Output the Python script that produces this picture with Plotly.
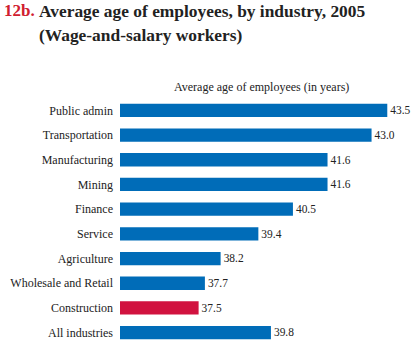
import plotly.graph_objects as go

industries = ["Public admin", "Transportation", "Manufacturing", "Mining", "Finance",
              "Service", "Agriculture", "Wholesale and Retail", "Construction", "All industries"]
avg_age = [43.5, 43.0, 41.6, 41.6, 40.5, 39.4, 38.2, 37.7, 37.5, 39.8]
value_labels = ["43.5", "43.0", "41.6", "41.6", "40.5", "39.4", "38.2", "37.7", "37.5", "39.8"]

BLUE = "#006cb8"
RED = "#d1123f"
colors = [RED if c == "Construction" else BLUE for c in industries]
SERIF = "Liberation Serif"

fig = go.Figure(go.Bar(
    y=industries, x=avg_age, base=0, orientation="h",
    marker=dict(color=colors, line=dict(width=0)),
    text=value_labels, textposition="outside", cliponaxis=False,
    textfont=dict(family=SERIF, size=12, color="#222222"),
    hoverinfo="skip",
))

W, H = 417, 350
ML, MR, MT, MB = 120, 14, 98, 5
PW, PH = W - ML - MR, H - MT - MB

def px(x):
    return (x - ML) / PW

def py(y):
    return (H - MB - y) / PH

fig.update_layout(
    width=W, height=H,
    margin=dict(l=ML, r=MR, t=MT, b=MB, pad=0),
    paper_bgcolor="white", plot_bgcolor="white",
    showlegend=False,
    bargap=0.46,
    font=dict(family=SERIF, color="#222222"),
    xaxis=dict(range=[35, 44], visible=False, fixedrange=True),
    yaxis=dict(categoryorder="array", categoryarray=industries, autorange="reversed",
               showgrid=False, showline=False, zeroline=False, ticks="",
               ticklabelstandoff=6,
               tickfont=dict(family=SERIF, size=12, color="#222222")),
    annotations=[
        dict(text="<b>12b.</b>", x=px(3), y=py(11), xref="paper", yref="paper",
             xanchor="left", yanchor="middle", showarrow=False, borderpad=0,
             font=dict(family=SERIF, size=17, color="#d0202f")),
        dict(text="<b>Average age of employees, by industry, 2005</b>", x=px(38), y=py(11),
             xref="paper", yref="paper", xanchor="left", yanchor="middle", showarrow=False,
             borderpad=0, font=dict(family=SERIF, size=17.4, color="#222222")),
        dict(text="<b>(Wage-and-salary workers)</b>", x=px(38), y=py(35),
             xref="paper", yref="paper", xanchor="left", yanchor="middle", showarrow=False,
             borderpad=0, font=dict(family=SERIF, size=17.4, color="#222222")),
        dict(text="Average age of employees (in years)", x=0.5, y=py(87),
             xref="paper", yref="paper", xanchor="center", yanchor="middle", showarrow=False,
             font=dict(family=SERIF, size=12, color="#222222")),
    ],
)

fig.write_html("out.html")
